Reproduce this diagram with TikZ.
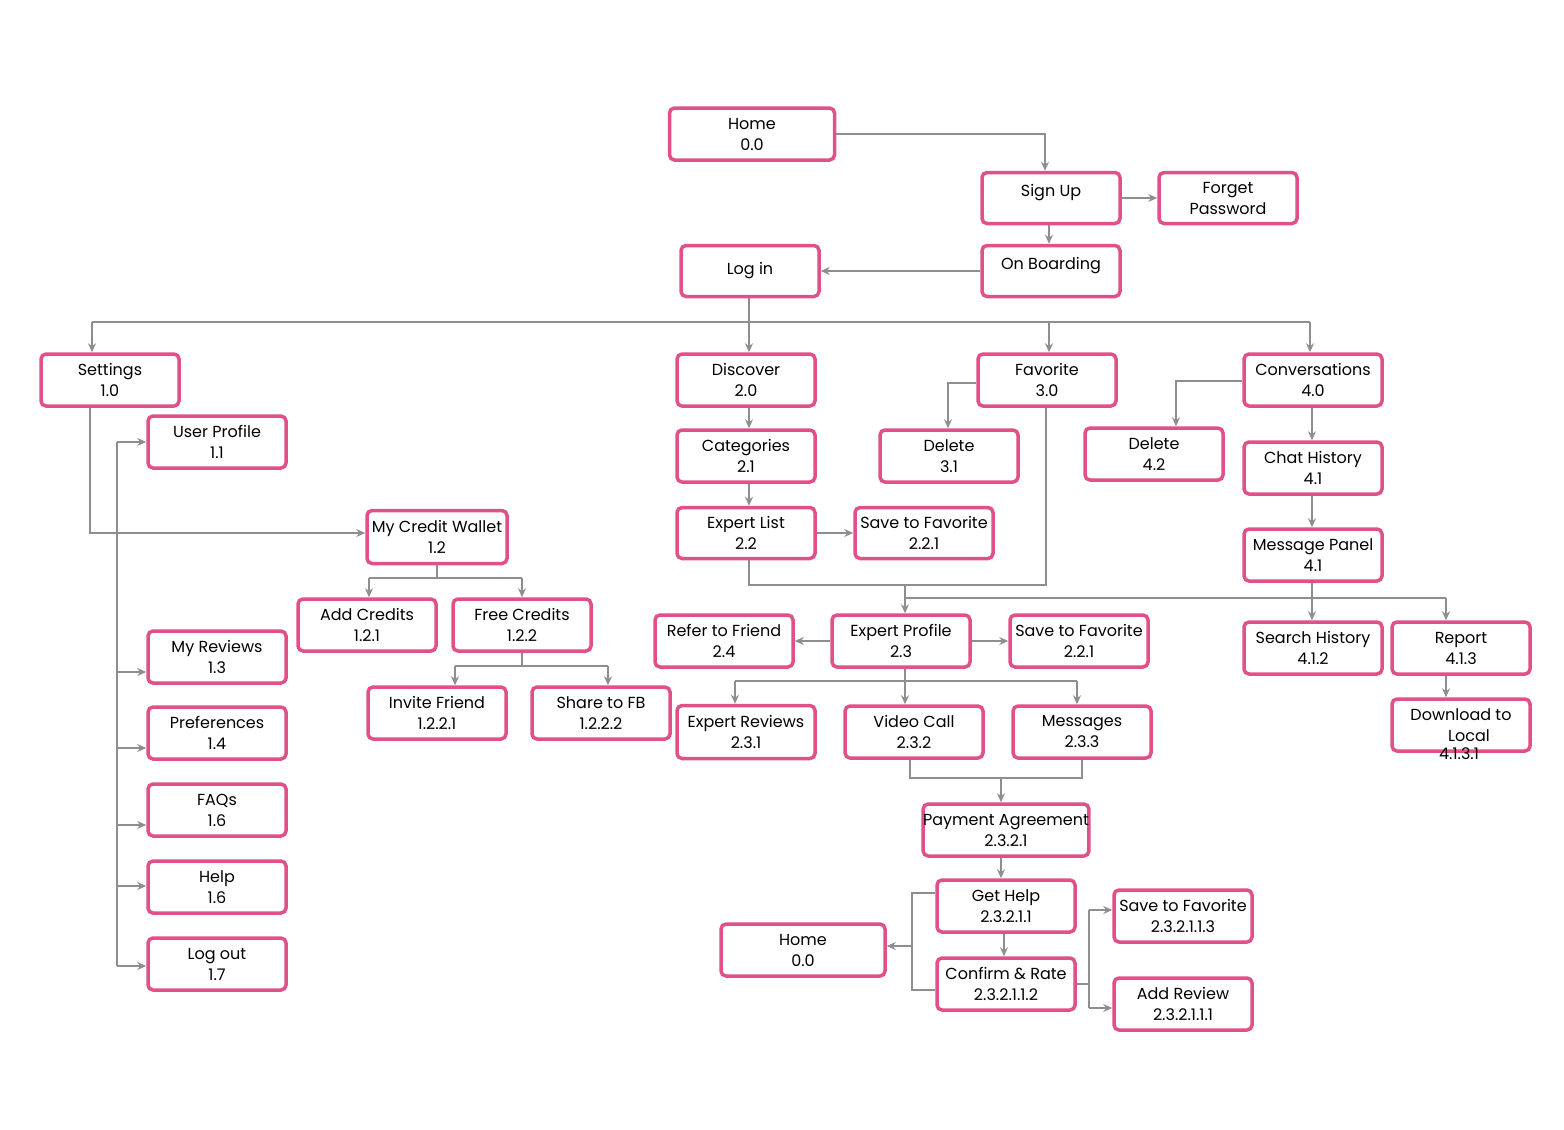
\documentclass[tikz,border=0pt]{standalone}
\usepackage{fontspec}
\setmainfont{Poppins}
\usetikzlibrary{arrows.meta}
\definecolor{pk}{HTML}{E2508A}
\definecolor{ln}{HTML}{8E8E8E}
\tikzset{bx/.style={draw=pk,line width=3.5pt,rounded corners=5pt,fill=white,align=center,inner sep=0pt,font=\fontsize{16}{21}\selectfont},
cn/.style={draw=ln,line width=2pt},
ar/.style={cn,-{Stealth[length=9pt,width=8pt]}}}
\newcommand\bx[6]{\node[bx,minimum width=#4pt,minimum height=#5pt] (#1) at (#2,#3) {#6};}
\begin{document}
\begin{tikzpicture}[x=1pt,y=-1pt]
\useasboundingbox (0,0) rectangle (1564,1130);
\bx{home}{752}{134}{165}{52}{Home\\0.0}
\bx{signup}{1051}{198}{138}{51}{Sign Up\\[-6pt]\phantom{x}}
\bx{forget}{1228}{198}{138}{51}{Forget\\Password}
\bx{onboard}{1051}{271}{138}{51}{On Boarding\\[-6pt]\phantom{x}}
\bx{login}{750}{271}{138}{51}{Log in}
\bx{settings}{110}{380}{138}{52}{Settings\\1.0}
\bx{discover}{746}{380}{138}{52}{Discover\\2.0}
\bx{favorite}{1047}{380}{138}{52}{Favorite\\3.0}
\bx{conv}{1313}{380}{138}{52}{Conversations\\4.0}
\bx{userprofile}{217}{442}{138}{52}{User Profile\\1.1}
\bx{categories}{746}{456}{138}{52}{Categories\\2.1}
\bx{delA}{949}{456}{138}{52}{Delete\\3.1}
\bx{delB}{1154}{454}{138}{52}{Delete\\4.2}
\bx{chathist}{1313}{468}{138}{52}{Chat History\\4.1}
\bx{wallet}{437}{537}{140}{53}{My Credit Wallet\\1.2}
\bx{expertlist}{746}{533}{138}{51}{Expert List\\2.2}
\bx{saveA}{924}{533}{138}{51}{Save to Favorite\\2.2.1}
\bx{msgpanel}{1313}{555}{138}{52}{Message Panel\\4.1}
\bx{addcredits}{367}{625}{138}{52}{Add Credits\\1.2.1}
\bx{freecredits}{522}{625}{138}{52}{Free Credits\\1.2.2}
\bx{myreviews}{217}{657}{138}{52}{My Reviews\\1.3}
\bx{refer}{724}{641}{138}{52}{Refer to Friend\\2.4}
\bx{expertprofile}{901}{641}{138}{52}{Expert Profile\\2.3}
\bx{saveB}{1079}{641}{138}{52}{Save to Favorite\\2.2.1}
\bx{searchhist}{1313}{648}{138}{52}{Search History\\4.1.2}
\bx{report}{1461}{648}{138}{52}{Report\\4.1.3}
\bx{invite}{437}{713}{138}{52}{Invite Friend\\1.2.2.1}
\bx{sharefb}{601}{713}{138}{52}{Share to FB\\1.2.2.2}
\bx{prefs}{217}{733}{138}{52}{Preferences\\1.4}
\bx{expertreviews}{746}{732}{138}{53}{Expert Reviews\\2.3.1}
\bx{video}{914}{732}{138}{52}{Video Call\\2.3.2}
\bx{messages}{1082}{732}{138}{52}{Messages\\2.3.3}
\bx{download}{1461}{725}{138}{52}{Download to\\\quad Local}
\node[font=\fontsize{16}{21}\selectfont] at (1459,754) {4.1.3.1};
\bx{faqs}{217}{810}{138}{52}{FAQs\\1.6}
\bx{payment}{1006}{830}{138}{52}{Payment Agreement\\2.3.2.1}
\bx{help}{217}{887}{138}{52}{Help\\1.6}
\bx{gethelp}{1006}{906}{138}{52}{Get Help\\2.3.2.1.1}
\bx{saveC}{1183}{916}{138}{52}{Save to Favorite\\2.3.2.1.1.3}
\bx{homeB}{803}{950}{164}{52}{Home\\0.0}
\bx{logout}{217}{964}{138}{52}{Log out\\1.7}
\bx{confirm}{1006}{984}{138}{52}{Confirm \& Rate\\2.3.2.1.1.2}
\bx{addreview}{1183}{1004}{138}{52}{Add Review\\2.3.2.1.1.1}
% connectors
\draw[ar] (home.east) -| (1045,0|-signup.north);
\draw[ar] (signup) -- (forget);
\draw[ar] (1049,0|-signup.south) -- (1049,0|-onboard.north);
\draw[ar] (onboard) -- (login);
\draw[cn] (749,0|-login.south) -- (749,322);
\draw[cn] (92,322) -- (1310,322);
\draw[ar] (92,322) -- (92,0|-settings.north);
\draw[ar] (749,322) -- (749,0|-discover.north);
\draw[ar] (1049,322) -- (1049,0|-favorite.north);
\draw[ar] (1310,322) -- (1310,0|-conv.north);
\draw[ar] (favorite.west|-0,383) -| (948,0|-delA.north);
\draw[ar] (conv.west|-0,381) -| (1176,0|-delB.north);
\draw[ar] (1312,0|-conv.south) -- (1312,0|-chathist.north);
\draw[ar] (1312,0|-chathist.south) -- (1312,0|-msgpanel.north);
\draw[ar] (749,0|-discover.south) -- (749,0|-categories.north);
\draw[ar] (749,0|-categories.south) -- (749,0|-expertlist.north);
\draw[ar] (expertlist) -- (saveA);
\draw[ar] (90,0|-settings.south) |- (wallet.west|-0,533);
\draw[cn] (117,442) -- (117,966);
\foreach \y/\n in {442/userprofile,672/myreviews,748/prefs,825/faqs,886/help,966/logout}
  \draw[ar] (117,\y) -- (\n.west|-0,\y);
\draw[cn] (437,0|-wallet.south) -- (437,578);
\draw[cn] (369,578) -- (522,578);
\draw[ar] (369,578) -- (369,0|-addcredits.north);
\draw[ar] (522,578) -- (522,0|-freecredits.north);
\draw[cn] (522,0|-freecredits.south) -- (522,666);
\draw[cn] (455,666) -- (608,666);
\draw[ar] (455,666) -- (455,0|-invite.north);
\draw[ar] (608,666) -- (608,0|-sharefb.north);
\draw[cn] (749,0|-expertlist.south) |- (1046,585) -- (1046,0|-favorite.south);
\draw[ar] (905,585) -- (905,0|-expertprofile.north);
\draw[cn] (1312,0|-msgpanel.south) -- (1312,598);
\draw[cn] (905,598) -- (1446,598);
\draw[ar] (1312,598) -- (1312,0|-searchhist.north);
\draw[ar] (1446,598) -- (1446,0|-report.north);
\draw[ar] (expertprofile) -- (refer);
\draw[ar] (expertprofile) -- (saveB);
\draw[cn] (905,0|-expertprofile.south) -- (905,681);
\draw[cn] (735,681) -- (1077,681);
\draw[ar] (735,681) -- (735,0|-expertreviews.north);
\draw[ar] (905,681) -- (905,0|-video.north);
\draw[ar] (1077,681) -- (1077,0|-messages.north);
\draw[cn] (910,0|-video.south) |- (1082,778) -- (1082,0|-messages.south);
\draw[ar] (1001,778) -- (1001,0|-payment.north);
\draw[ar] (1001,0|-payment.south) -- (1001,0|-gethelp.north);
\draw[ar] (1004,0|-gethelp.south) -- (1004,0|-confirm.north);
\draw[cn] (gethelp.west|-0,893) -| (912,990) -- (confirm.west|-0,990);
\draw[ar] (912,946) -- (homeB.east|-0,946);
\draw[cn] (confirm.east|-0,984) -- (1089,984);
\draw[cn] (1089,910) -- (1089,1008);
\draw[ar] (1089,910) -- (saveC.west|-0,910);
\draw[ar] (1089,1008) -- (addreview.west|-0,1008);
\draw[ar] (1446,0|-report.south) -- (1446,0|-download.north);
\end{tikzpicture}
\end{document}
